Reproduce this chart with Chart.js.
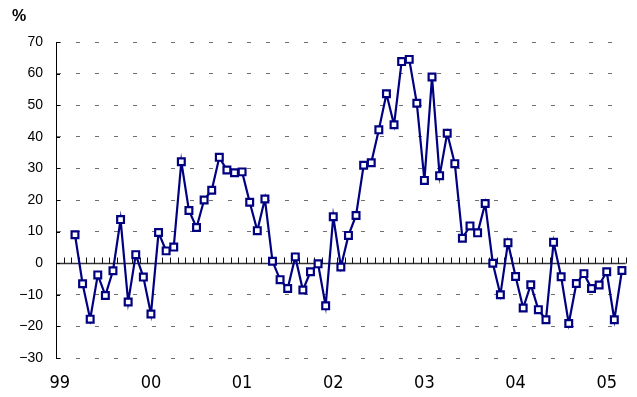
<!DOCTYPE html>
<html>
<head>
<meta charset="utf-8">
<script src="https://cdn.jsdelivr.net/npm/chart.js@4.4.1/dist/chart.umd.min.js"></script>
<style>
  html, body { margin: 0; padding: 0; background: #fff; }
  #chart { display: block; }
</style>
</head>
<body>
<canvas id="chart" width="637" height="397"></canvas>
<script>
// Year labels on the bottom axis (one category per month, Jan 99 .. Mar 05)
const yearLabels = ['99', '00', '01', '02', '03', '04', '05'];
const monthCount = 75;
// Series starts in March 99
const firstMonthIndex = 2;

// Monthly growth rate, %
const growth = [
  9.0, -6.5, -17.7, -3.7, -10.2, -2.4, 13.8, -12.3, 2.7, -4.4,
  -16.1, 9.7, 3.9, 5.1, 32.1, 16.7, 11.3, 20.0, 23.1, 33.5,
  29.5, 28.6, 28.9, 19.3, 10.3, 20.3, 0.6, -5.2, -8.0, 2.0,
  -8.5, -2.7, -0.2, -13.5, 14.7, -1.2, 8.8, 15.1, 31.0, 31.8,
  42.2, 53.6, 43.8, 63.8, 64.5, 50.6, 26.2, 58.9, 27.7, 41.1,
  31.5, 7.9, 11.8, 9.6, 18.9, 0.0, -10.0, 6.5, -4.2, -14.2,
  -6.8, -14.7, -17.9, 6.6, -4.3, -19.1, -6.4, -3.3, -8.0, -6.9,
  -2.7, -17.9, -2.3
];

const yMin = -30;
const yMax = 70;
const yStep = 10;

const categories = [];
for (let i = 0; i < monthCount; i++) {
  categories.push(yearLabels[Math.floor(i / 12)] + '/' + (i % 12 + 1));
}
const seriesData = categories.map((_, i) => {
  const k = i - firstMonthIndex;
  return k >= 0 && k < growth.length ? growth[k] : null;
});

const fmtTick = v => (v < 0 ? '\u2212' + Math.abs(v) : String(v));

// zero line with monthly tick marks, short inward ticks on the y axis, and the unit label
const axisDecor = {
  id: 'axisDecor',
  beforeDatasetsDraw(chart) {
    const { ctx, chartArea: a, scales: { x, y } } = chart;
    const y0 = Math.round(y.getPixelForValue(0)) + 0.5;
    ctx.save();
    ctx.strokeStyle = '#333';
    ctx.lineWidth = 1.5;
    ctx.beginPath();
    ctx.moveTo(a.left, y0);
    ctx.lineTo(a.right, y0);
    ctx.stroke();

    ctx.lineWidth = 1;
    ctx.strokeStyle = '#111';
    const slot = (a.right - a.left) / x.ticks.length;
    ctx.beginPath();
    for (let i = 1; i <= x.ticks.length; i++) {
      const px = Math.round(a.left + i * slot) + 0.5;
      ctx.moveTo(px, y0);
      ctx.lineTo(px, y0 - 6);
    }
    ctx.stroke();

    ctx.strokeStyle = '#000';
    ctx.beginPath();
    y.ticks.forEach(t => {
      const py = Math.round(y.getPixelForValue(t.value)) + 0.5;
      ctx.moveTo(a.left, py);
      ctx.lineTo(a.left + 4, py);
    });
    ctx.stroke();
    ctx.restore();
  },
  afterDraw(chart) {
    const { ctx } = chart;
    ctx.save();
    ctx.fillStyle = '#000';
    ctx.font = 'bold 16px "Liberation Sans", Arial, sans-serif';
    ctx.textBaseline = 'alphabetic';
    ctx.fillText('%', 12, 21);
    ctx.restore();
  }
};

new Chart(document.getElementById('chart'), {
  type: 'line',
  data: {
    labels: categories,
    datasets: [{
      data: seriesData,
      borderColor: '#000080',
      borderWidth: 2.2,
      tension: 0,
      pointStyle: 'rect',
      pointRadius: 4.8,
      pointBorderWidth: 2.2,
      pointBackgroundColor: '#fff',
      pointBorderColor: '#000080',
      spanGaps: false
    }]
  },
  options: {
    responsive: false,
    animation: false,
    devicePixelRatio: 1,
    layout: { padding: { top: 42, right: 11, left: 0, bottom: 0 } },
    plugins: {
      legend: { display: false },
      tooltip: { enabled: false }
    },
    scales: {
      x: {
        type: 'category',
        offset: true,
        grid: { display: false, drawTicks: false },
        border: { display: false },
        ticks: {
          autoSkip: false,
          maxRotation: 0,
          padding: 15,
          color: '#000',
          font: { family: '"Liberation Sans Narrow", "DejaVu Sans Condensed", sans-serif', size: 18 },
          callback: (val, i) => (i % 12 === 0 ? yearLabels[i / 12] : '')
        },
        afterFit: s => { s.height = 39; }
      },
      y: {
        min: yMin,
        max: yMax,
        grid: { color: '#707070', lineWidth: 1, drawTicks: false },
        border: { display: true, color: '#000', width: 1, dash: [4, 15] },
        ticks: {
          stepSize: yStep,
          padding: 13,
          color: '#000',
          font: { family: '"Liberation Sans", Arial, sans-serif', size: 14 },
          callback: v => fmtTick(v)
        },
        afterFit: s => { s.width = 56; }
      }
    }
  },
  plugins: [axisDecor]
});
</script>
</body>
</html>
